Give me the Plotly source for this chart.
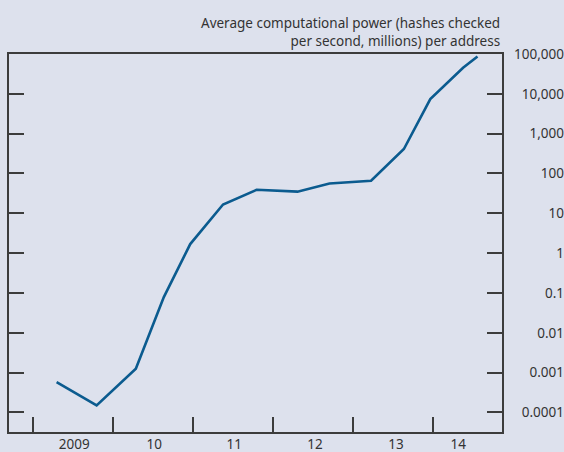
import plotly.graph_objects as go

# Data (decimal years, hashes/s millions per address)
years = [2009.29, 2009.79, 2010.28, 2010.63, 2010.96, 2011.37, 2011.79,
         2012.30, 2012.70, 2013.22, 2013.63, 2013.96, 2014.37, 2014.55]
power = [0.00058, 0.00015, 0.00125, 0.079, 1.69, 16.7, 39,
         35, 56, 66, 411, 7400, 45300, 87000]

year_ticks = [2009, 2010, 2011, 2012, 2013, 2014]
year_label_pos = [2009.51, 2010.51, 2011.51, 2012.52, 2013.53, 2014.31]
year_labels = ["2009", "10", "11", "12", "13", "14"]

y_ticks = [1e-4, 1e-3, 1e-2, 1e-1, 1, 10, 100, 1000, 10000, 100000]
y_labels = ["0.0001", "0.001", "0.01", "0.1", "1", "10", "100", "1,000", "10,000", "100,000"]

title_text = "Average computational power (hashes checked<br>per second, millions) per address"

BG = "#dde1ed"
AX = "#3c3c3c"
TXT = "#333333"
FONT = "Noto Sans"

W, H = 564, 452
ml, mr, mt, mb = 9, 0, 54, 20
plot_w = W - ml - mr
right_edge = 501.5
xdom = (right_edge - ml) / plot_w

xr = [2008.695, 2014.85]
yr = [-4.49, 5]

fig = go.Figure()
fig.add_trace(go.Scatter(x=years, y=power, mode="lines",
                         line=dict(color="#0b5b8f", width=2.6),
                         showlegend=False, hoverinfo="skip"))
# invisible trace to activate the label axes
fig.add_trace(go.Scatter(x=[years[0]], y=[power[0]], xaxis="x2", yaxis="y2",
                         mode="markers", marker=dict(opacity=0),
                         showlegend=False, hoverinfo="skip"))

fig.update_layout(
    width=W, height=H,
    margin=dict(l=ml, r=mr, t=mt, b=mb, autoexpand=False),
    paper_bgcolor=BG, plot_bgcolor=BG,
    font=dict(family=FONT, size=13, color=TXT),
    xaxis=dict(domain=[0, xdom], range=xr, tickmode="array", tickvals=year_ticks,
               ticktext=[""] * len(year_ticks), ticks="inside", ticklen=15,
               tickwidth=1.5, tickcolor=AX, showline=True, linecolor=AX,
               linewidth=1.5, mirror=True, showgrid=False, zeroline=False),
    xaxis2=dict(domain=[0, xdom], range=xr, overlaying="x", anchor="y",
                side="bottom", tickmode="array", tickvals=year_label_pos,
                ticktext=year_labels, ticks="", showline=False, showgrid=False,
                zeroline=False, ticklabelstandoff=2,
                tickfont=dict(size=13.5, color=TXT)),
    yaxis=dict(type="log", range=yr, side="right", tickmode="array",
               tickvals=y_ticks, ticktext=[""] * len(y_ticks), ticks="inside",
               ticklen=15, tickwidth=1.5, tickcolor=AX, showline=True,
               linecolor=AX, linewidth=1.5, mirror="ticks", showgrid=False,
               zeroline=False),
    yaxis2=dict(type="log", range=yr, overlaying="y", side="left",
                anchor="free", position=1.0, tickmode="array", tickvals=y_ticks,
                ticktext=y_labels, ticks="", showline=False, showgrid=False,
                zeroline=False, tickfont=dict(size=13.5, color=TXT)),
    annotations=[dict(text=title_text, xref="paper", yref="paper",
                      x=xdom, y=1.0, xanchor="right", yanchor="bottom",
                      align="right", showarrow=False, yshift=2,
                      font=dict(family=FONT, size=13.5, color=TXT))],
)

fig.write_html("out.html", config={"displayModeBar": False},
               post_script="document.body.style.margin='0px';document.body.style.overflow='hidden';")
